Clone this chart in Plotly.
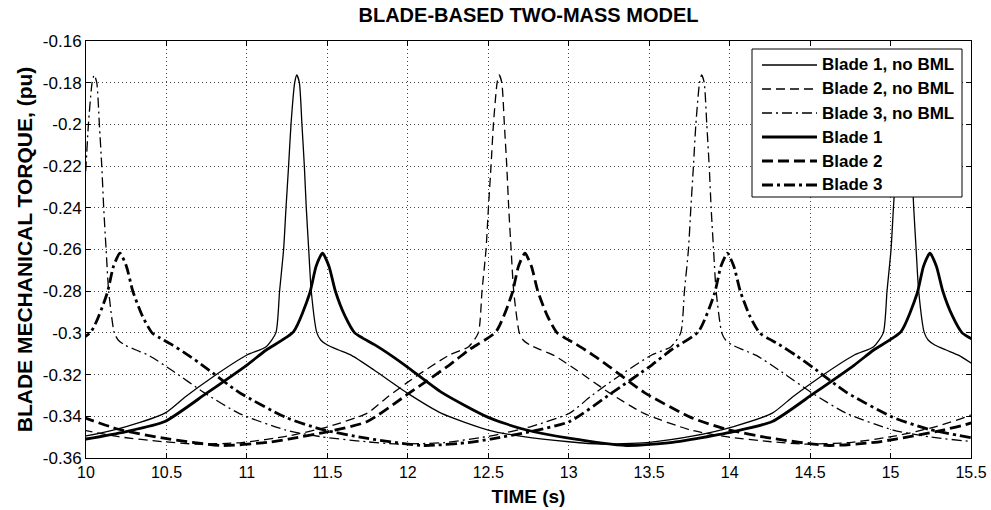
import plotly.graph_objects as go

# ---- measured torque profiles over one rotor revolution (time offset from the blade's peak, s) ----
NOBML_OFFSET = [-1.8875, -1.6, -1.31, -1.06, -0.82, -0.69, -0.52, -0.31, -0.19, -0.13,
                -0.107, -0.082, -0.067, -0.051, -0.036, -0.013, 0.0, 0.016, 0.032, 0.047,
                0.059, 0.074, 0.09, 0.125, 0.15, 0.19, 0.26, 0.34, 0.48, 0.69,
                0.90, 1.19, 1.41, 1.69, 1.8875]
NOBML_TORQUE = [-0.3533, -0.3526, -0.3494, -0.3449, -0.3385, -0.3305, -0.3210, -0.3106, -0.3066, -0.3000,
                -0.2800, -0.2600, -0.2400, -0.2200, -0.2000, -0.1800, -0.1763, -0.1800, -0.2000, -0.2200,
                -0.2400, -0.2600, -0.2800, -0.3000, -0.3035, -0.3058, -0.3082, -0.3108, -0.3178, -0.3290,
                -0.3386, -0.3466, -0.3498, -0.3522, -0.3533]

BML_OFFSET = [-1.8875, -1.6, -1.47, -1.22, -0.98, -0.72, -0.47, -0.35, -0.18, -0.08,
              -0.04, 0.0, 0.04, 0.08, 0.14, 0.20, 0.25, 0.32, 0.43, 0.53,
              0.74, 1.03, 1.25, 1.53, 1.8875]
BML_TORQUE = [-0.3540, -0.3525, -0.3509, -0.3473, -0.3425, -0.3289, -0.3154, -0.3082, -0.2994, -0.2811,
              -0.2680, -0.2618, -0.2680, -0.2800, -0.2920, -0.3000, -0.3025, -0.3055, -0.3110, -0.3165,
              -0.3285, -0.3405, -0.3462, -0.3505, -0.3540]

ROTOR_PERIOD = 3.775                      # s per revolution
PEAK_NOBML = [11.31, 12.568, 10.051]      # blade 1, 2, 3 peak times without BML
PEAK_BML = [11.47, 12.728, 10.211]        # blade 1, 2, 3 peak times with BML

SERIES_NAMES = ["Blade 1, no BML", "Blade 2, no BML", "Blade 3, no BML",
                "Blade 1", "Blade 2", "Blade 3"]

X_TICKS = [10, 10.5, 11, 11.5, 12, 12.5, 13, 13.5, 14, 14.5, 15, 15.5]
X_TICK_TEXT = ["10", "10.5", "11", "11.5", "12", "12.5", "13", "13.5", "14", "14.5", "15", "15.5"]
Y_TICKS = [-0.36, -0.34, -0.32, -0.30, -0.28, -0.26, -0.24, -0.22, -0.20, -0.18, -0.16]
Y_TICK_TEXT = ["-0.36", "-0.34", "-0.32", "-0.3", "-0.28", "-0.26", "-0.24", "-0.22", "-0.2", "-0.18", "-0.16"]

T_START, T_END = 10.0, 15.5


def periodic_series(offsets, torque, peak):
    """Repeat one revolution of measured torque around each passage of the blade."""
    ts, vs = [], []
    for k in range(-3, 4):
        centre = peak + k * ROTOR_PERIOD
        for i, (o, v) in enumerate(zip(offsets, torque)):
            if ts and i == 0:
                continue  # shared end point of consecutive revolutions
            t = centre + o
            if T_START - 0.3 <= t <= T_END + 0.3:
                ts.append(t)
                vs.append(v)
    return ts, vs


THIN, THICK = 1.3, 2.8
styles = [
    dict(width=THIN, dash="solid"),
    dict(width=THIN, dash="9px,5px"),
    dict(width=THIN, dash="10px,4px,2px,4px"),
    dict(width=THICK, dash="solid"),
    dict(width=THICK, dash="11px,5px"),
    dict(width=THICK, dash="11px,4px,3px,4px"),
]

fig = go.Figure()
profiles = [(NOBML_OFFSET, NOBML_TORQUE, p) for p in PEAK_NOBML] + \
           [(BML_OFFSET, BML_TORQUE, p) for p in PEAK_BML]
for name, (offs, tq, pk), st in zip(SERIES_NAMES, profiles, styles):
    t, v = periodic_series(offs, tq, pk)
    fig.add_trace(go.Scatter(
        x=t, y=v, mode="lines", name=name, showlegend=False,
        line=dict(color="black", width=st["width"], dash=st["dash"],
                  shape="spline", smoothing=0.6),
    ))

FONT = "Arial, Liberation Sans, sans-serif"
PLOT_L, PLOT_R, PLOT_T, PLOT_B = 86, 971, 41, 458
W, H = 991, 510

axis_common = dict(
    showline=True, linecolor="black", linewidth=1, mirror="ticks",
    ticks="inside", ticklen=5, tickcolor="black", automargin=False,
    showgrid=True, gridcolor="#444444", gridwidth=1, griddash="1px,3px",
    zeroline=False,
)

fig.update_layout(
    width=W, height=H, autosize=False,
    margin=dict(l=PLOT_L, r=W - PLOT_R, t=PLOT_T, b=H - PLOT_B, pad=0),
    paper_bgcolor="white", plot_bgcolor="white",
    font=dict(family=FONT, color="black"),
    title=dict(text="<b>BLADE-BASED TWO-MASS MODEL</b>", x=(PLOT_L + PLOT_R) / 2 / W,
               xanchor="center", y=1 - 15 / H, yanchor="middle", yref="container",
               automargin=False, font=dict(family=FONT, size=20, color="black")),
    xaxis=dict(range=[T_START, T_END], tickvals=X_TICKS, ticktext=X_TICK_TEXT,
               tickfont=dict(family=FONT, size=16, color="black"),
               title=dict(text="<b>TIME (s)</b>", standoff=9,
                          font=dict(family=FONT, size=19, color="black")),
               **axis_common),
    yaxis=dict(range=[-0.36, -0.16], tickvals=Y_TICKS, ticktext=Y_TICK_TEXT,
               tickfont=dict(family=FONT, size=17, color="black"),
               title=dict(text="<b>BLADE MECHANICAL TORQUE, (pu)</b>", standoff=4,
                          font=dict(family=FONT, size=21, color="black")),
               **axis_common),
)

# legend box drawn in axes-paper coordinates
pw, ph = PLOT_R - PLOT_L, PLOT_B - PLOT_T
px = lambda x: (x - PLOT_L) / pw
py = lambda y: (PLOT_B - y) / ph
fig.add_shape(type="rect", xref="paper", yref="paper",
              x0=px(752), x1=px(962), y0=py(197), y1=py(49),
              line=dict(color="black", width=1), fillcolor="white", layer="above")
row_y = [65, 89, 113, 137, 161, 185]
for name, st, ry in zip(SERIES_NAMES, styles, row_y):
    fig.add_shape(type="line", xref="paper", yref="paper",
                  x0=px(762), x1=px(817), y0=py(ry), y1=py(ry), layer="above",
                  line=dict(color="black", width=st["width"], dash=st["dash"]))
    fig.add_annotation(xref="paper", yref="paper", x=px(820), y=py(ry),
                       text="<b>" + name + "</b>", showarrow=False,
                       xanchor="left", yanchor="middle",
                       font=dict(family=FONT, size=17, color="black"))

fig.write_html("out.html")
